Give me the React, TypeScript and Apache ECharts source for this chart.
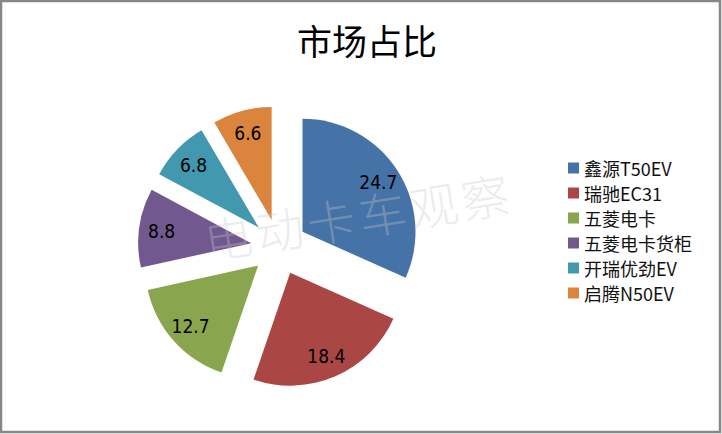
import React, { useEffect, useRef } from "react";
import * as echarts from "echarts";

const categories = ["鑫源T50EV", "瑞驰EC31", "五菱电卡", "五菱电卡货柜", "开瑞优劲EV", "启腾N50EV"];
const values = [24.7, 18.4, 12.7, 8.8, 6.8, 6.6];
const colors = ["#4572A7", "#AA4643", "#89A54E", "#71588F", "#4198AF", "#DB843D"];
const titleText = "市场占比";
const watermarkChars = ["电", "动", "卡", "车", "观", "察"];

export default function App() {
  const ref = useRef<HTMLDivElement>(null);
  useEffect(() => {
    if (!ref.current) return;
    const chart = echarts.init(ref.current, null, { renderer: "svg" });
    const center = [279, 247];
    const r = 113;
    const offset = 28;
    const mainData = categories.map((name, i) => ({
      name,
      value: values[i],
      selected: true,
      itemStyle: { color: colors[i] },
    }));
    const labelData = categories.map((name, i) => ({
      name,
      value: values[i],
      selected: true,
    }));
    chart.setOption({
      animation: false,
      backgroundColor: "#ffffff",
      title: {
        text: titleText,
        left: 362,
        top: 17,
        textAlign: "center",
        textStyle: {
          fontFamily: "'Noto Sans CJK SC', serif",
          fontSize: 35,
          fontWeight: "normal",
          color: "#000",
        },
      },
      legend: {
        orient: "vertical",
        left: 563,
        top: 154,
        icon: "rect",
        itemWidth: 11,
        itemHeight: 11,
        itemGap: 7,
        selectedMode: false,
        data: categories.map((name, i) => ({ name, itemStyle: { color: colors[i] } })),
        textStyle: {
          fontFamily: "'Noto Sans CJK SC', sans-serif",
          fontSize: 18,
          lineHeight: 18,
          color: "#111",
          padding: [0, 0, 0, 0],
        },
        itemStyle: { borderWidth: 0 },
      },
      series: [
        {
          type: "pie",
          center,
          radius: [0, r],
          startAngle: 90,
          clockwise: true,
          selectedMode: "multiple",
          selectedOffset: offset,
          silent: true,
          label: { show: false },
          labelLine: { show: false },
          itemStyle: { borderWidth: 0 },
          data: mainData,
        },
        {
          type: "pie",
          center,
          radius: [62, r],
          startAngle: 90,
          clockwise: true,
          selectedMode: "multiple",
          selectedOffset: offset,
          silent: true,
          itemStyle: { color: "transparent", borderWidth: 0 },
          label: {
            show: true,
            position: "inside",
            formatter: "{c}",
            color: "#000",
            fontSize: 19,
            fontFamily: "'Liberation Sans Narrow', 'DejaVu Sans Condensed', sans-serif",
            textBorderWidth: 0,
          },
          labelLine: { show: false },
          data: labelData,
        },
      ],
      graphic: {
        elements: [
          {
            type: "rect",
            shape: { x: 1, y: 1, width: 719, height: 431 },
            style: { fill: "none", stroke: "#878787", lineWidth: 2.5 },
            silent: true,
            z: 100,
            zlevel: 0,
          },
          {
            type: "group",
            x: 208,
            y: 263,
            rotation: (9 * Math.PI) / 180,
            z: 100,
            silent: true,
            children: watermarkChars.map((ch, i) => ({
              type: "text",
              x: i * 52,
              y: 0,
              z: 100,
              silent: true,
              style: {
                text: ch,
                fontSize: 48,
                fontWeight: 300,
                fontFamily: "'Noto Sans CJK SC', sans-serif",
                fill: "rgba(200,200,200,0.35)",
                textVerticalAlign: "bottom",
              },
            })),
          },
        ],
      },
    });
    return () => chart.dispose();
  }, []);
  return (
    <div
      ref={ref}
      style={{ position: "fixed", left: 0, top: 0, width: 722, height: 434 }}
    />
  );
}
